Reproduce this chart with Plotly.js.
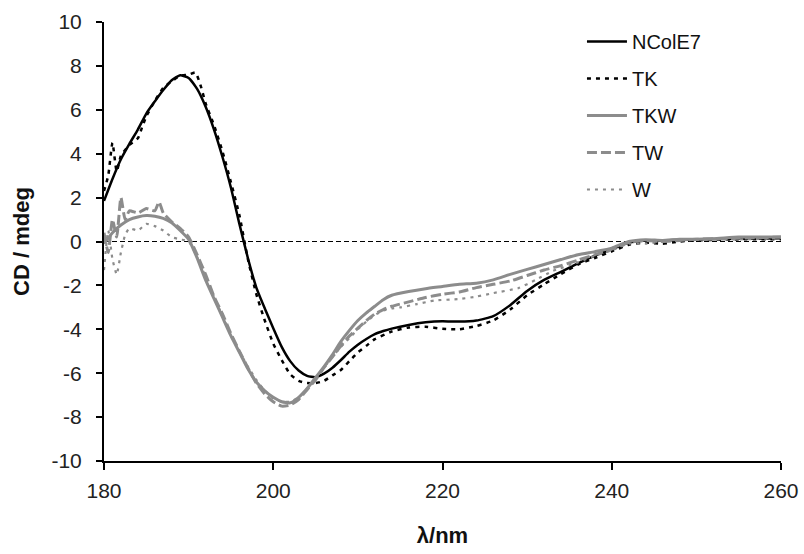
<!DOCTYPE html>
<html>
<head>
<meta charset="utf-8">
<script src="https://cdn.plot.ly/plotly-3.0.1.min.js"></script>
<style>html,body{margin:0;padding:0;background:#fff;}#chart{width:804px;height:554px;}</style>
</head>
<body>
<div id="chart"></div>
<script>
// ---- data ----
const seriesNames = ["NColE7", "TK", "TKW", "TW", "W"];

const ncolX = [180,181,182,183,184,185,186,187,188,189,190,191,192,193,194,195,196,197,198,199,200,201,202,203,204,205,206,207,208,209,210,211,212,213,214,216,218,220,222,224,226,228,230,232,234,236,238,240,242,244,246,248,250,255,260];
const ncolY = [1.85,2.85,3.75,4.45,5.1,5.83,6.38,6.9,7.35,7.57,7.45,6.95,6.15,5.1,3.85,2.45,0.8,-0.75,-2.1,-3.05,-3.95,-4.8,-5.45,-5.88,-6.12,-6.18,-6.02,-5.75,-5.4,-5.02,-4.7,-4.44,-4.22,-4.08,-3.97,-3.8,-3.68,-3.63,-3.65,-3.6,-3.4,-2.9,-2.25,-1.75,-1.38,-1.0,-0.64,-0.35,-0.05,0.05,0.05,0.08,0.1,0.12,0.15];

const tkX = [180,180.5,181,181.5,182,183,184,184.5,185,186,187,188,189,190,190.8,191.5,192,193,194,195,196,197,198,199,200,201,202,203,204,205,206,207,208,209,210,211,212,214,216,218,220,222,224,226,228,230,232,234,236,238,240,242,244,246,248,250,255,260];
const tkY = [2.3,3.0,4.5,3.2,3.9,4.4,4.7,5.2,5.7,6.4,7.0,7.3,7.55,7.6,7.7,7.0,6.3,5.3,4.1,2.7,1.2,-0.8,-2.4,-3.6,-4.65,-5.4,-6.05,-6.35,-6.45,-6.45,-6.35,-6.1,-5.85,-5.45,-5.05,-4.75,-4.45,-4.1,-3.92,-3.88,-3.98,-4.0,-3.85,-3.6,-3.1,-2.45,-1.95,-1.48,-1.05,-0.75,-0.45,-0.15,-0.05,-0.1,0.0,0.05,0.1,0.1];

const tkwX = [180,181,182,183,184,185,186,187,188,189,190,191,192,193,194,195,196,197,198,199,200,201,202,203,204,205,206,207,208,209,210,211,212,213,214,216,218,220,222,224,226,228,230,232,234,236,238,240,242,244,246,248,250,252,255,258,260];
const tkwY = [-0.1,0.4,0.75,1.0,1.12,1.18,1.15,1.05,0.85,0.5,0.1,-0.75,-1.75,-2.6,-3.45,-4.3,-5.05,-5.8,-6.4,-6.8,-7.1,-7.3,-7.35,-7.1,-6.7,-6.2,-5.7,-5.15,-4.55,-4.05,-3.6,-3.25,-2.95,-2.65,-2.45,-2.28,-2.15,-2.05,-1.95,-1.9,-1.75,-1.5,-1.27,-1.05,-0.82,-0.6,-0.46,-0.3,0.0,0.08,0.05,0.1,0.1,0.12,0.2,0.2,0.2];

const twX = [180,180.5,181,181.5,182,182.5,183,184,185,186,186.5,187,188,189,190,191,192,193,194,195,196,197,198,199,200,201,202,203,204,205,206,207,208,209,210,211,212,213,214,216,218,220,222,224,226,228,230,232,234,236,238,240,242,244,246,248,250,255,260];
const twY = [0.4,-0.5,1.0,0.2,2.0,1.0,1.4,1.3,1.5,1.4,1.8,1.3,0.9,0.6,0.2,-0.6,-1.5,-2.5,-3.3,-4.2,-5.0,-5.75,-6.45,-6.95,-7.3,-7.5,-7.45,-7.2,-6.75,-6.3,-5.75,-5.25,-4.75,-4.3,-3.95,-3.6,-3.3,-3.1,-2.95,-2.75,-2.55,-2.4,-2.3,-2.1,-1.95,-1.8,-1.55,-1.3,-1.1,-0.85,-0.6,-0.35,-0.05,0.05,0.0,0.05,0.1,0.15,0.2];

const wX = [180,180.5,181,181.5,182,182.5,183,184,185,186,187,188,189,190,191,192,193,194,195,196,197,198,199,200,201,202,203,204,205,206,207,208,209,210,211,212,213,214,215,217,219,222,224,226,229,231,233,236,238,240,242,244,246,248,250,255,260];
const wY = [-1.3,0.5,-0.8,-1.5,-0.5,0.3,0.6,0.5,0.8,0.7,0.5,0.2,0.1,0.0,-0.7,-1.6,-2.5,-3.4,-4.25,-5.0,-5.7,-6.3,-6.8,-7.15,-7.3,-7.3,-7.1,-6.7,-6.25,-5.75,-5.25,-4.8,-4.4,-4.0,-3.65,-3.35,-3.15,-3.05,-3.0,-2.85,-2.69,-2.62,-2.51,-2.35,-2.12,-1.75,-1.35,-0.95,-0.65,-0.4,-0.1,-0.1,0.0,0.05,0.1,0.1,0.15];

const xTicks = [180, 200, 220, 240, 260];
const yTicks = [-10,-8,-6,-4,-2,0,2,4,6,8,10];

// ---- styles ----
const gray = "#8c8c8c";
const styles = [
  {color: "#000000", width: 2.5, dash: "solid"},
  {color: "#000000", width: 2.5, dash: "4px,5px"},
  {color: gray, width: 3, dash: "solid"},
  {color: gray, width: 3, dash: "10px,4px"},
  {color: gray, width: 2.2, dash: "3px,5px"}
];
const xs = [ncolX, tkX, tkwX, twX, wX];
const ys = [ncolY, tkY, tkwY, twY, wY];

const traces = seriesNames.map((n, i) => ({
  type: "scatter", mode: "lines", name: n, x: xs[i], y: ys[i],
  legendgroup: "g" + i,
  line: {color: styles[i].color, width: styles[i].width, dash: styles[i].dash, shape: "spline", smoothing: 0.5}
}));

const font = "Liberation Sans, Arial, sans-serif";
const layout = {
  width: 804, height: 554,
  margin: {l: 104, r: 23, t: 22, b: 93},
  paper_bgcolor: "#fff", plot_bgcolor: "#fff",
  font: {family: font, size: 20, color: "#222"},
  showlegend: true,
  legend: {x: 0.706, y: 1.0, xanchor: "left", yanchor: "top", font: {family: font, size: 20, color: "#111"},
           tracegroupgap: 8, itemwidth: 40, bgcolor: "rgba(0,0,0,0)"},
  xaxis: {range: [180, 260], tickvals: xTicks, ticktext: xTicks.map(String), showgrid: false, zeroline: false,
          showline: true, linecolor: "#000", linewidth: 2, ticks: "outside", ticklen: 7, tickwidth: 2, tickcolor: "#000",
          tickfont: {size: 21, color: "#222"}, ticklabelstandoff: 3,
          title: {text: "<b>λ/nm</b>", font: {size: 22, color: "#111"}, standoff: 26}},
  yaxis: {range: [-10, 10], tickvals: yTicks, ticktext: yTicks.map(String), showgrid: false, zeroline: false,
          showline: true, linecolor: "#000", linewidth: 2, ticks: "outside", ticklen: 6, tickwidth: 2, tickcolor: "#000",
          tickfont: {size: 21, color: "#222"}, ticklabelstandoff: 10,
          title: {text: "<b>CD / mdeg</b>", font: {size: 22, color: "#111"}, standoff: 16}},
  shapes: [{type: "line", xref: "paper", x0: 0, x1: 1, yref: "y", y0: 0, y1: 0,
            line: {color: "#000", width: 1, dash: "5px,3px"}, layer: "below"}]
};

Plotly.newPlot("chart", traces, layout, {staticPlot: true, displayModeBar: false});
</script>
</body>
</html>
